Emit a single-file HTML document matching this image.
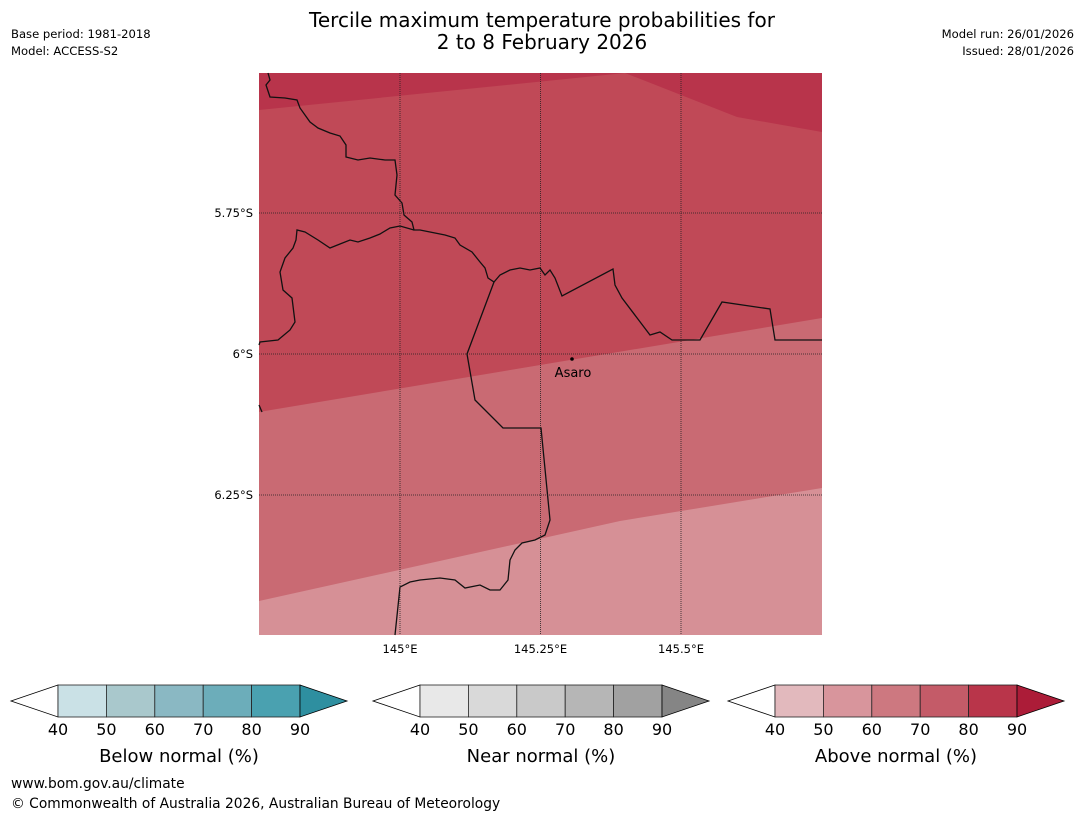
<!DOCTYPE html>
<html><head><meta charset="utf-8">
<style>
body{margin:0;background:#fff;width:1085px;height:816px;overflow:hidden;font-family:"DejaVu Sans","Liberation Sans",sans-serif;}
svg{position:absolute;left:0;top:0}
</style></head>
<body>
<svg width="1085" height="816" xmlns="http://www.w3.org/2000/svg">
<g id="map"></g>
<g id="cbars"></g>
<text x="542" y="27" font-size="20" text-anchor="middle">Tercile maximum temperature probabilities for</text>
<text x="542" y="49" font-size="20" text-anchor="middle">2 to 8 February 2026</text>
<text x="11" y="38" font-size="11.6">Base period: 1981-2018</text>
<text x="11" y="55" font-size="11.6">Model: ACCESS-S2</text>
<text x="1074" y="38" font-size="11.6" text-anchor="end">Model run: 26/01/2026</text>
<text x="1074" y="55" font-size="11.6" text-anchor="end">Issued: 28/01/2026</text>
<text x="11" y="788" font-size="13.8">www.bom.gov.au/climate</text>
<text x="11" y="808" font-size="13.8">© Commonwealth of Australia 2026, Australian Bureau of Meteorology</text>
</svg>
<script>
const NS="http://www.w3.org/2000/svg";
const lonTicks=[145,145.25,145.5];
const lonLabels=["145°E","145.25°E","145.5°E"];
const latTicks=[-5.75,-6,-6.25];
const latLabels=["5.75°S","6°S","6.25°S"];
const levels=[40,50,60,70,80,90];
const belowColors=["#cae1e6","#a9c8cc","#8ab8c3","#6cadba","#4aa1b0","#2e8fa0"];
const nearColors=["#e8e8e8","#d9d9d9","#c9c9c9","#b6b6b6","#a1a1a1","#858585"];
const aboveColors=["#e2b9bd","#d8959c","#cd7880","#c45b68","#b9354a","#ac1c38"];
const cbarTitles=["Below normal (%)","Near normal (%)","Above normal (%)"];
const X0=259,X1=822,Y0=73,Y1=635;
const lonX=l=>400+(l-145)/0.25*140.5;
const latY=l=>213+(-5.75-l)/0.25*141;
function el(tag,attrs,parent){const e=document.createElementNS(NS,tag);for(const k in attrs)e.setAttribute(k,attrs[k]);parent.appendChild(e);return e;}
const map=document.getElementById('map');
let r=el('rect',{x:X0,y:Y0,width:X1-X0,height:Y1-Y0,fill:'#d69096'},map);

let p=el('polygon',{points:`${X0},${Y0} ${X1},${Y0} ${X1},488 620,521 ${X0},601`,fill:'#c96a73'},map);

p=el('polygon',{points:`${X0},${Y0} ${X1},${Y0} ${X1},318 ${X0},412`,fill:'#c04957'},map);

p=el('polygon',{points:`${X0},${Y0} ${X1},${Y0} ${X1},132 737,117 625,${Y0} ${X0},110`,fill:'#b8344b'},map);

const borders=[
"268,73 270,80 266,85 270,97 285,98 297,100 300,108 310,122 318,128 330,133 340,136 346,145 346,157 358,160 370,158 385,160 395,160 397,175 395,195 402,203 404,215 412,222 414,230 420,230 430,232 445,235 455,238 460,245 472,252 480,262 485,268 488,278 494,282 500,275 510,270 520,268 530,270 540,268 545,275 550,270 555,278 562,296 613,269 615,285 622,298 650,335 660,332 672,340 700,340 722,302 770,309 775,340 822,340",
"414,230 400,226 390,228 380,234 370,238 358,242 350,240 340,244 330,248 318,240 305,232 297,230 296,240 293,248 285,258 280,272 283,290 292,298 295,322 290,330 278,340 260,342 259,345",
"494,282 467,354 475,400 503,428 541,428 550,520 545,535 535,540 522,543 515,550 510,560 508,580 500,590 490,590 480,585 465,588 455,580 440,578 420,580 410,582 400,587 395,635",
"259,405 262,412"];
borders.forEach((b,i)=>{const l=el('polyline',{points:b,fill:'none',stroke:'#111',"stroke-width":1.3},map);
});
lonTicks.forEach((v,i)=>{const x=lonX(v);
const l=el('line',{x1:x,y1:Y0,x2:x,y2:Y1,stroke:'#222',"stroke-width":0.8,"stroke-dasharray":"1,1"},map);

const t=el('text',{x:x,y:653,"font-size":11.5,"text-anchor":"middle"},map);t.textContent=lonLabels[i];
});
latTicks.forEach((v,i)=>{const y=latY(v);
const l=el('line',{x1:X0,y1:y,x2:X1,y2:y,stroke:'#222',"stroke-width":0.8,"stroke-dasharray":"1,1"},map);

const t=el('text',{x:253,y:y+4,"font-size":11.5,"text-anchor":"end"},map);t.textContent=latLabels[i];
});
let d=el('circle',{cx:572,cy:359,r:1.8,fill:'#000'},map);

let at=el('text',{x:573,y:377,"font-size":13,"text-anchor":"middle"},map);at.textContent="Asaro";

const cb=document.getElementById('cbars');
const starts=[58,420,775];const segW=48.4,cy0=685,cy1=717;
[belowColors,nearColors,aboveColors].forEach((cols,k)=>{
 const x0=starts[k],xe=x0+segW*(levels.length-1),cm=(cy0+cy1)/2;
 let a=el('polygon',{points:`${x0},${cy0} ${x0-47},${cm} ${x0},${cy1}`,fill:'#fff',stroke:'#000',"stroke-width":0.8},cb);
 
 for(let i=0;i<levels.length-1;i++){
  const s=el('rect',{x:x0+i*segW,y:cy0,width:segW,height:cy1-cy0,fill:cols[i],stroke:'#222',"stroke-width":0.8},cb);
  }
 a=el('polygon',{points:`${xe},${cy0} ${xe+47},${cm} ${xe},${cy1}`,fill:cols[5],stroke:'#000',"stroke-width":0.8},cb);
 
 levels.forEach((v,i)=>{const t=el('text',{x:x0+i*segW,y:735,"font-size":16,"text-anchor":"middle"},cb);t.textContent=v;
  });
 const t=el('text',{x:(x0+xe)/2,y:762,"font-size":18,"text-anchor":"middle"},cb);t.textContent=cbarTitles[k];
 
});
</script>
</body></html>
